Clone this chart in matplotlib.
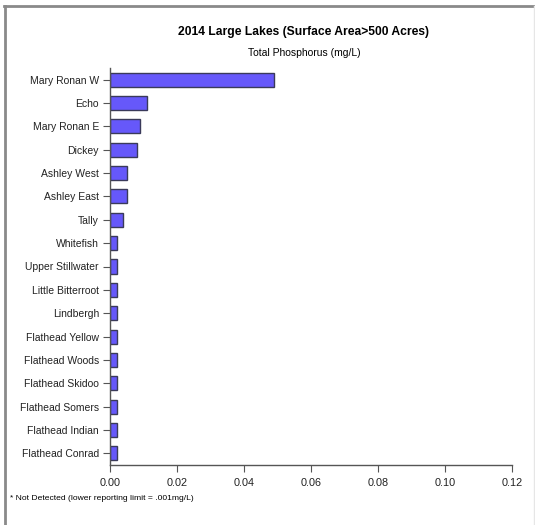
import matplotlib
matplotlib.use("Agg")
import matplotlib.pyplot as plt
from matplotlib.lines import Line2D

# Lakes, top to bottom, and total phosphorus (mg/L)
lakes = ["Mary Ronan W", "Echo", "Mary Ronan E", "Dickey", "Ashley West",
         "Ashley East", "Tally", "Whitefish", "Upper Stillwater",
         "Little Bitterroot", "Lindbergh", "Flathead Yellow", "Flathead Woods",
         "Flathead Skidoo", "Flathead Somers", "Flathead Indian",
         "Flathead Conrad"]
phosphorus = [0.049, 0.011, 0.009, 0.008, 0.005, 0.005, 0.004, 0.002, 0.002,
              0.002, 0.002, 0.002, 0.002, 0.002, 0.002, 0.002, 0.002]
xticks = [0.00, 0.02, 0.04, 0.06, 0.08, 0.10, 0.12]

plt.rcParams['font.family'] = ['Liberation Sans', 'DejaVu Sans']

fig = plt.figure(figsize=(5.35, 5.25), dpi=100)
ax = fig.add_axes([110 / 535, 1 - 465 / 525, 402 / 535, 397 / 525])

ypos = list(range(len(lakes)))
ax.barh(ypos, phosphorus, height=0.6, color="#6658fa",
        edgecolor="#3a3a5a", linewidth=1.0)
ax.set_ylim(len(lakes) - 0.5, -0.5)
ax.set_yticks(ypos)
ax.set_yticklabels(lakes, fontsize=7.5)
ax.set_xlim(0, 0.12)
ax.set_xticks(xticks)
ax.set_xticklabels(["%.2f" % t for t in xticks], fontsize=7.8)

for s in ["top", "right"]:
    ax.spines[s].set_visible(False)
for s in ["left", "bottom"]:
    ax.spines[s].set_color("#555555")
    ax.spines[s].set_linewidth(1.0)
ax.tick_params(axis="both", direction="out", length=5, width=0.8,
               color="#555555", labelcolor="#222222", pad=3)
ax.tick_params(axis="x", pad=4)

fig.text(304 / 535, 1 - 32 / 525, "2014 Large Lakes (Surface Area>500 Acres)",
         ha="center", va="center", fontsize=8.7, fontweight="bold")
fig.text(304 / 535, 1 - 53 / 525, "Total Phosphorus (mg/L)",
         ha="center", va="center", fontsize=7.5)
fig.text(10 / 535, 1 - 499 / 525, "* Not Detected (lower reporting limit = .001mg/L)",
         ha="left", va="center", fontsize=6.1)

# frame around the picture
fig.add_artist(Line2D([4 / 535, 534 / 535], [1 - 6 / 525, 1 - 6 / 525],
                      color="#8a8a8a", linewidth=2))
fig.add_artist(Line2D([5 / 535, 5 / 535], [0, 1 - 6 / 525],
                      color="#8a8a8a", linewidth=2))
fig.add_artist(Line2D([533.5 / 535, 533.5 / 535], [0, 1 - 6 / 525],
                      color="#e6e6e6", linewidth=1))

fig.savefig("out.png", dpi=100)
